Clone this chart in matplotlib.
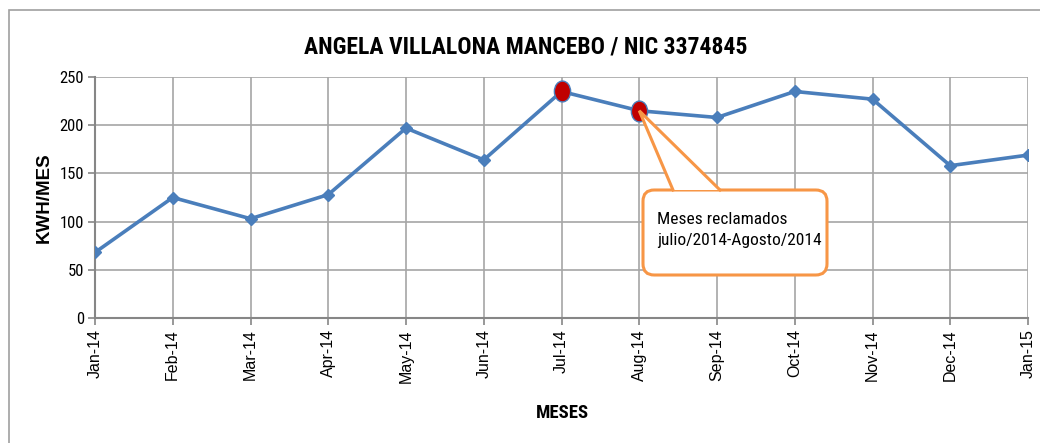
import matplotlib
matplotlib.use("Agg")
import matplotlib.pyplot as plt
from matplotlib import font_manager
from matplotlib.patches import FancyBboxPatch, Polygon, Rectangle
from matplotlib.lines import Line2D
from matplotlib.path import Path
from matplotlib.transforms import Affine2D

months = ["Jan-14", "Feb-14", "Mar-14", "Apr-14", "May-14", "Jun-14", "Jul-14",
          "Aug-14", "Sep-14", "Oct-14", "Nov-14", "Dec-14", "Jan-15"]
kwh = [68, 125, 103, 128, 197, 164, 235, 215, 208, 235, 227, 158, 169]
claimed = [6, 7]  # indices of Jul-14 and Aug-14
yticks = [0, 50, 100, 150, 200, 250]
title = "ANGELA VILLALONA MANCEBO / NIC 3374845"
callout = "Meses reclamados\njulio/2014-Agosto/2014"

names = {f.name for f in font_manager.fontManager.ttflist}
narrow = "Liberation Sans Narrow" if "Liberation Sans Narrow" in names else "Roboto Condensed" if "Roboto Condensed" in names else "DejaVu Sans"

fig = plt.figure(figsize=(10.4, 4.43), dpi=100)
fig.patches.append(Rectangle((9/1040, -0.1), 1.2, 1 - 10/443 + 0.1, transform=fig.transFigure,
                             fill=False, edgecolor="#A0A0A0", linewidth=1.2))
ax = fig.add_axes([95/1040, 1 - 318/443, (1028-95)/1040, (318-77)/443])

x = list(range(len(months)))
ax.plot(x, kwh, color="#4A7EBB", linewidth=2.6, marker="D", markersize=6.5,
        markerfacecolor="#4A7EBB", markeredgecolor="#4A7EBB", zorder=3)
ellipse = Path.unit_circle().transformed(Affine2D().scale(0.78, 1.0))
ax.plot([x[i] for i in claimed], [kwh[i] for i in claimed], linestyle="none", marker=ellipse,
        markersize=15, markerfacecolor="#C00000", markeredgecolor="#4A7EBB",
        markeredgewidth=1, zorder=4)
ax.set_xlim(0, len(months) - 1)
ax.set_ylim(0, 250)
ax.set_yticks(yticks)
ax.set_xticks(x)
ax.set_xticklabels(months, rotation=90, fontsize=11.5, family="Liberation Sans")
ax.set_yticklabels([str(v) for v in yticks], fontsize=12, family=narrow)
ax.grid(True, color="#A6A6A6", linewidth=1.2)
ax.set_axisbelow(True)
for s in ["top", "right"]:
    ax.spines[s].set_visible(False)
for s in ["left", "bottom"]:
    ax.spines[s].set_color("#868686")
    ax.spines[s].set_linewidth(1.5)
ax.tick_params(axis="both", color="#868686", length=5, width=1.2, direction="out", pad=3)

fig.text(526/1040, 1 - 47/443, title, ha="center", va="center", fontsize=17, fontweight="bold", family=narrow)
ax.set_ylabel("KWH/MES", fontsize=13.5, fontweight="bold", family="Liberation Sans", labelpad=5)
fig.text(562/1040, 1 - 413/443, "MESES", ha="center", va="center", fontsize=13.5, fontweight="bold", family=narrow)

# callout box
bx0, bx1 = (643-95)/933, (827-95)/933
by0, by1 = (318-275)/241, (318-190)/241
orange = "#F79646"
box = FancyBboxPatch((bx0, by0), bx1-bx0, by1-by0, boxstyle="round,pad=0,rounding_size=0.012",
                     transform=ax.transAxes, facecolor="white", edgecolor=orange, linewidth=2.2,
                     zorder=5, mutation_aspect=933/241)
ax.add_patch(box)
fig.canvas.draw()
tip_disp = ax.transData.transform((claimed[1], kwh[claimed[1]]))
tip = ax.transAxes.inverted().transform(tip_disp)
b1 = ((673-95)/933, by1)
b2 = ((720-95)/933, by1)
tri = Polygon([b1, tip, b2], closed=True, transform=ax.transAxes, facecolor="white",
              edgecolor="none", zorder=6)
ax.add_patch(tri)
ax.add_line(Line2D([b1[0], tip[0], b2[0]], [b1[1], tip[1], b2[1]], transform=ax.transAxes,
                   color=orange, linewidth=2.2, zorder=7, solid_joinstyle="miter"))
ax.text((657-95)/933, (318-230)/241, callout, transform=ax.transAxes, ha="left", va="center",
        fontsize=12.5, family=narrow, linespacing=1.5, zorder=8)

fig.savefig("out.png", dpi=100)
